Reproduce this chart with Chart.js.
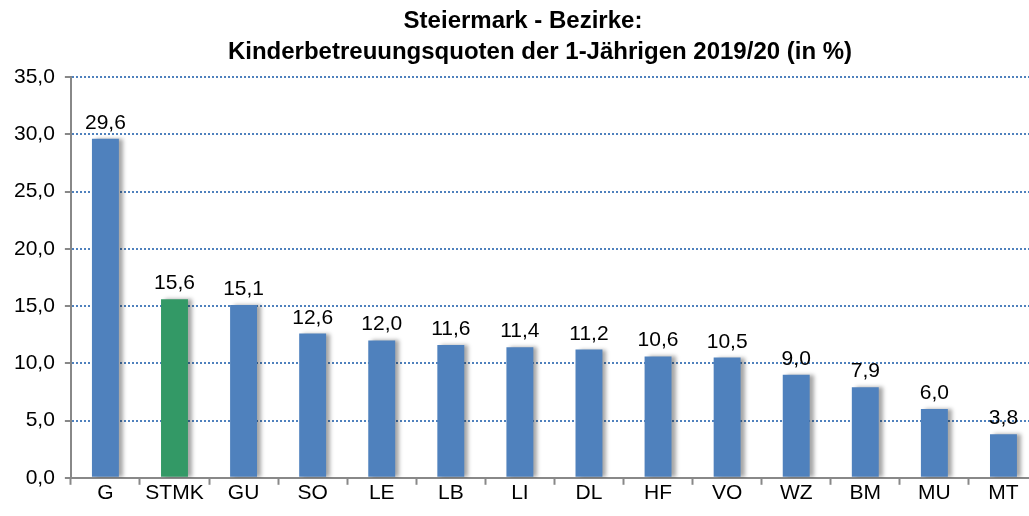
<!DOCTYPE html>
<html>
<head>
<meta charset="utf-8">
<script src="https://cdn.jsdelivr.net/npm/chart.js@4/dist/chart.umd.min.js"></script>
<style>
	html, body { margin: 0; padding: 0; background: #fff; overflow: hidden; }
	#wrap { width: 1029px; height: 516px; overflow: hidden; }
</style>
</head>
<body>
<div id="wrap"><canvas id="canvas" width="1038" height="516"></canvas></div>
<script>
var districts = ['G', 'STMK', 'GU', 'SO', 'LE', 'LB', 'LI', 'DL', 'HF', 'VO', 'WZ', 'BM', 'MU', 'MT'];
var quotas = [29.6, 15.6, 15.1, 12.6, 12.0, 11.6, 11.4, 11.2, 10.6, 10.5, 9.0, 7.9, 6.0, 3.8];
var titleLines = ['Steiermark - Bezirke:', 'Kinderbetreuungsquoten der 1-Jährigen 2019/20 (in %)'];

var blue = '#4f81bd';
var green = '#339966';
var fontFamily = '"Liberation Sans", Arial, sans-serif';
var barColors = districts.map(function(d){
	return d == 'STMK' ? green : blue;
});

function formatComma(v){
	return v.toFixed(1).replace('.', ',');
}

// soft grey shadow to the right of the bars
var barShadow = {
	id: 'barShadow',
	beforeDatasetsDraw: function(chart){
		var ctx = chart.ctx;
		ctx.save();
		ctx.shadowColor = 'rgba(0,0,0,0.35)';
		ctx.shadowOffsetX = 4;
		ctx.shadowOffsetY = 0;
		ctx.shadowBlur = 4;
	},
	afterDatasetsDraw: function(chart){
		chart.ctx.restore();
	}
};

var valueLabels = {
	id: 'valueLabels',
	afterDraw: function(chart){
		var ctx = chart.ctx;
		var meta = chart.getDatasetMeta(0);
		ctx.save();
		ctx.font = '21px ' + fontFamily;
		ctx.fillStyle = '#000';
		ctx.textAlign = 'center';
		ctx.textBaseline = 'alphabetic';
		meta.data.forEach(function(bar, i){
			ctx.fillText(formatComma(quotas[i]), bar.x, bar.y - 10);
		});
		ctx.restore();
	}
};

// two-line title, the second line sits a little right of the first
var chartTitle = {
	id: 'chartTitle',
	afterDraw: function(chart){
		var ctx = chart.ctx;
		ctx.save();
		ctx.font = 'bold 24px ' + fontFamily;
		ctx.fillStyle = '#000';
		ctx.textAlign = 'center';
		ctx.textBaseline = 'alphabetic';
		ctx.fillText(titleLines[0], 523, 28);
		ctx.fillText(titleLines[1], 540, 59);
		ctx.restore();
	}
};

var config = {
	type: 'bar',
	data: {
		labels: districts,
		datasets: [{
			data: quotas,
			backgroundColor: barColors,
			borderWidth: 0,
			barPercentage: 0.39,
			categoryPercentage: 1.0
		}]
	},
	options: {
		responsive: false,
		animation: false,
		layout: { padding: { left: 4, right: 0, top: 77, bottom: 14 } },
		plugins: {
			legend: { display: false },
			tooltip: { enabled: false },
			title: { display: false }
		},
		scales: {
			x: {
				grid: {
					offset: true,
					drawOnChartArea: false,
					drawTicks: true,
					tickLength: 7,
					tickColor: '#888',
					tickWidth: 2
				},
				border: { color: '#888', width: 2 },
				ticks: {
					color: '#000',
					padding: -4,
					font: { family: fontFamily, size: 21 }
				}
			},
			y: {
				min: 0,
				max: 35,
				grid: {
					color: blue,
					lineWidth: 2,
					tickLength: 6,
					tickColor: '#888',
					tickWidth: 2,
					tickBorderDash: []
				},
				border: { color: '#888', width: 2, dash: [2, 2] },
				ticks: {
					stepSize: 5,
					color: '#000',
					padding: 10,
					font: { family: fontFamily, size: 21 },
					callback: function(v){ return formatComma(v); }
				}
			}
		}
	},
	plugins: [barShadow, valueLabels, chartTitle]
};

var ctx = document.getElementById('canvas').getContext('2d');
window.myChart = new Chart(ctx, config);
</script>
</body>
</html>
